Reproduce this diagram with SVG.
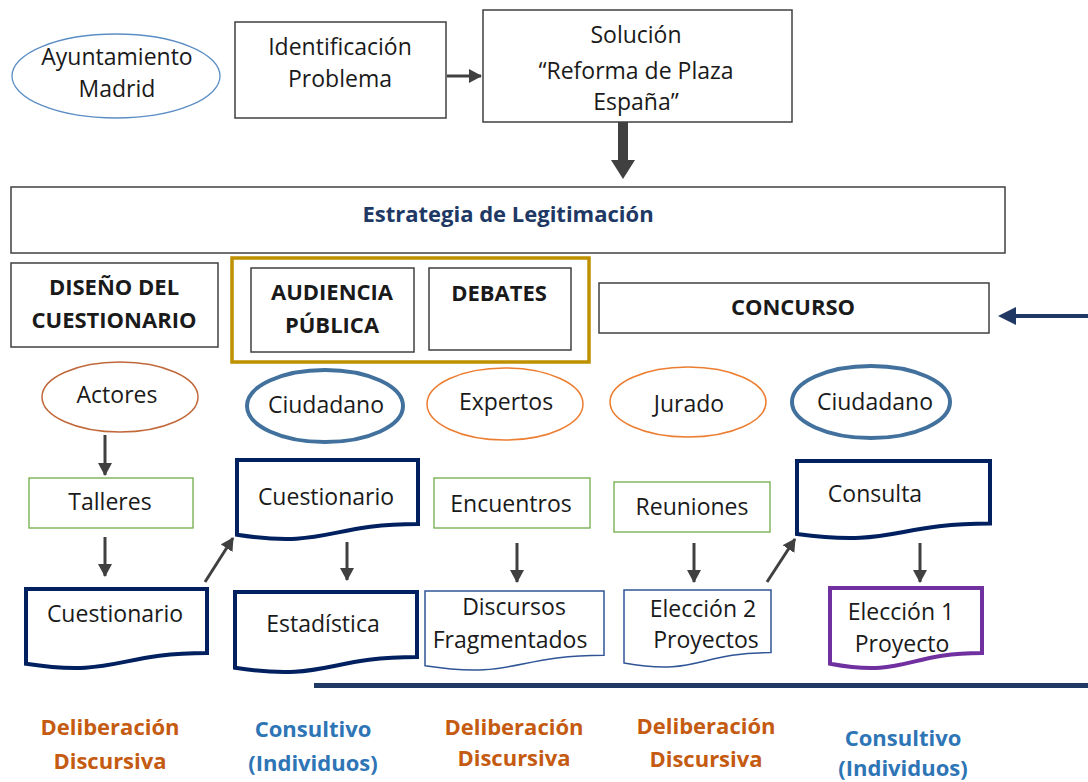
<svg xmlns="http://www.w3.org/2000/svg" width="1088" height="782" viewBox="0 0 1088 782">
<defs>
<style>
text{font-family:"Open Sans","Liberation Sans",sans-serif;text-anchor:middle;fill:#1a1a1a}
.t{font-size:23px}
.b{font-size:22px;font-weight:bold}
.box{fill:#fff;stroke:#404040;stroke-width:1.5}
.grn{fill:#fff;stroke:#70ad47;stroke-width:1.3}
.dk{fill:#fff;stroke:#002060;stroke-width:4}
.dt{fill:#fff;stroke:#2f5597;stroke-width:1.5}
.pur{fill:#fff;stroke:#7030a0;stroke-width:4}
.eo{fill:#fff;stroke:#ed7d31;stroke-width:1.5}
.eb{fill:#fff;stroke:#41719c;stroke-width:4}
.or{fill:#c55a11}
.bl{fill:#2e75b6}
.arr{stroke:#404040;stroke-width:3;fill:none;marker-end:url(#ah)}
</style>
<marker id="ah" markerUnits="userSpaceOnUse" markerWidth="14" markerHeight="14" refX="12" refY="7" orient="auto">
<path d="M0,0 L13,7 L0,14 Z" fill="#404040"/>
</marker>
</defs>
<rect width="1088" height="782" fill="#fff"/>

<g id="ayuntamiento">
<ellipse cx="116" cy="76" rx="104" ry="42" fill="#fff" stroke="#5b8ec4" stroke-width="1.3"/>
<text class="t" x="117" y="65">Ayuntamiento</text>
<text class="t" x="117" y="97">Madrid</text>
</g>
<g id="identificacion">
<rect class="box" x="235" y="22" width="211" height="96"/>
<text class="t" x="340" y="55">Identificación</text>
<text class="t" x="340" y="87">Problema</text>
</g>
<g id="solucion">
<rect class="box" x="483" y="10" width="309" height="112"/>
<text class="t" x="636" y="43">Solución</text>
<text class="t" x="636" y="79">“Reforma de Plaza</text>
<text class="t" x="636" y="110">España”</text>
</g>
<g id="estrategia">
<rect class="box" x="11" y="187" width="994" height="66"/>
<text class="b" x="508" y="222" style="fill:#203864">Estrategia de Legitimación</text>
</g>
<g id="diseno">
<rect class="box" x="11" y="263" width="207" height="84"/>
<text class="b" x="114" y="295">DISEÑO DEL</text>
<text class="b" x="114" y="328">CUESTIONARIO</text>
</g>
<g id="grupo-audiencia-debates">
<rect x="232" y="258" width="357" height="104" fill="none" stroke="#bf9000" stroke-width="3.5"/>
</g>
<g id="audiencia">
<rect class="box" x="251" y="268" width="163" height="84"/>
<text class="b" x="332" y="300">AUDIENCIA</text>
<text class="b" x="332" y="333">PÚBLICA</text>
</g>
<g id="debates">
<rect class="box" x="429" y="268" width="142" height="82"/>
<text class="b" x="499" y="301">DEBATES</text>
</g>
<g id="concurso">
<rect class="box" x="599" y="283" width="390" height="50"/>
<text class="b" x="793" y="315">CONCURSO</text>
</g>

<g id="actores">
<ellipse cx="120" cy="397" rx="78" ry="35" fill="#fff" stroke="#c0683a" stroke-width="1.5"/>
<text class="t" x="117" y="403">Actores</text>
</g>
<g id="ciudadano1">
<ellipse class="eb" cx="325" cy="406" rx="78" ry="36"/>
<text class="t" x="326" y="413">Ciudadano</text>
</g>
<g id="expertos">
<ellipse class="eo" cx="505" cy="404" rx="78" ry="36"/>
<text class="t" x="506" y="410">Expertos</text>
</g>
<g id="jurado">
<ellipse class="eo" cx="688" cy="402" rx="78" ry="35"/>
<text class="t" x="689" y="412">Jurado</text>
</g>
<g id="ciudadano2">
<ellipse class="eb" cx="871" cy="402" rx="79" ry="36"/>
<text class="t" x="875" y="410">Ciudadano</text>
</g>

<g id="talleres">
<rect class="grn" x="29" y="478" width="164" height="50"/>
<text class="t" x="110" y="510">Talleres</text>
</g>
<g id="encuentros">
<rect class="grn" x="434" y="478" width="156" height="50"/>
<text class="t" x="511" y="512">Encuentros</text>
</g>
<g id="reuniones">
<rect class="grn" x="614" y="482" width="156" height="50"/>
<text class="t" x="692" y="515">Reuniones</text>
</g>

<g id="cuestionario-1">
<path class="dk" d="M26,589 H207 V653 C116.5,653 116.5,677.6 26,663.7 Z"/>
<text class="t" x="115" y="622">Cuestionario</text>
</g>
<g id="cuestionario-2">
<path class="dk" d="M237,460 H418 V524 C327.5,524 327.5,548.6 237,534.7 Z"/>
<text class="t" x="326" y="505">Cuestionario</text>
</g>
<g id="estadistica">
<path class="dk" d="M235,592 H417 V657 C326,657 326,681.7 235,667.7 Z"/>
<text class="t" x="323" y="632">Estadística</text>
</g>
<g id="discursos">
<path class="dt" d="M425,591 H604 V655.2 C514.5,655.2 514.5,679.6 425,665.7 Z"/>
<text class="t" x="514" y="615">Discursos</text>
<text class="t" x="510" y="648">Fragmentados</text>
</g>
<g id="eleccion2">
<path class="dt" d="M624,590 H771 V652.6 C697.5,652.6 697.5,676.3 624,662.9 Z"/>
<text class="t" x="703" y="617">Elección 2</text>
<text class="t" x="706" y="648">Proyectos</text>
</g>
<g id="consulta">
<path class="dk" d="M797,461 H990 V523.6 C893.5,523.6 893.5,547.3 797,533.9 Z"/>
<text class="t" x="875" y="502">Consulta</text>
</g>
<g id="eleccion1">
<path class="pur" d="M830,588 H982 V653 C906,653 906,677.7 830,663.7 Z"/>
<text class="t" x="901" y="620">Elección 1</text>
<text class="t" x="902" y="652">Proyecto</text>
</g>

<g id="connectors">
<line class="arr" x1="447" y1="76" x2="481" y2="76"/>
<polygon points="618,122 628,122 628,160 635,160 623,179 611,160 618,160" fill="#404040"/>
<line x1="1088" y1="316" x2="1012" y2="316" stroke="#203864" stroke-width="4"/>
<polygon points="998,316 1016,307 1016,325" fill="#203864"/>
<line class="arr" x1="105" y1="435" x2="105" y2="475"/>
<line class="arr" x1="105" y1="537" x2="105" y2="576"/>
<line class="arr" x1="205" y1="582" x2="233" y2="538"/>
<line class="arr" x1="347" y1="542" x2="347" y2="580"/>
<line class="arr" x1="517" y1="543" x2="517" y2="582"/>
<line class="arr" x1="694" y1="543" x2="694" y2="582"/>
<line class="arr" x1="767" y1="582" x2="795" y2="539"/>
<line class="arr" x1="920" y1="543" x2="920" y2="582"/>
<line x1="314" y1="685.5" x2="1088" y2="685.5" stroke="#203864" stroke-width="5"/>
</g>

<g id="labels">
<text class="b or" x="110" y="735">Deliberación</text>
<text class="b or" x="110" y="769">Discursiva</text>
<text class="b bl" x="313" y="737">Consultivo</text>
<text class="b bl" x="313" y="771">(Individuos)</text>
<text class="b or" x="514" y="735">Deliberación</text>
<text class="b or" x="514" y="766">Discursiva</text>
<text class="b or" x="706" y="734">Deliberación</text>
<text class="b or" x="706" y="767">Discursiva</text>
<text class="b bl" x="903" y="746">Consultivo</text>
<text class="b bl" x="903" y="776">(Individuos)</text>
</g>
</svg>
